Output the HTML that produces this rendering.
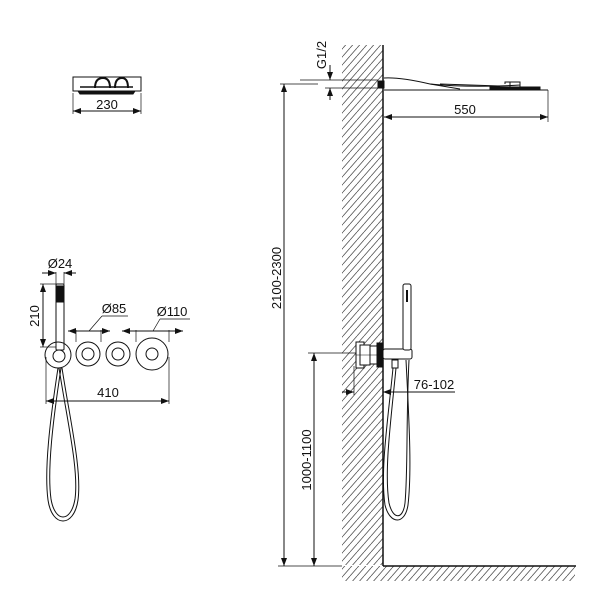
<!DOCTYPE html>
<html><head><meta charset="utf-8"><style>
html,body{margin:0;padding:0;background:#fff;width:600px;height:600px;overflow:hidden}
svg{display:block}
text{font-family:"Liberation Sans",sans-serif;font-size:13px;fill:#111}
</style></head><body>
<svg width="600" height="600" viewBox="0 0 600 600" xmlns="http://www.w3.org/2000/svg">
<defs>
<pattern id="h" width="7" height="8" patternUnits="userSpaceOnUse">
<path d="M0,8 L7,0 M-1,1 L0,0 M7,8 L8,7" stroke="#555" stroke-width="0.8"/>
</pattern>
<marker id="a" markerWidth="8" markerHeight="6" refX="8" refY="3" orient="auto-start-reverse" markerUnits="userSpaceOnUse">
<path d="M0,0 L8,3 L0,6 Z" fill="#111"/>
</marker>
</defs>
<g stroke="#111" fill="none" stroke-width="1">
<rect x="342" y="45" width="41" height="520" fill="url(#h)" stroke="none"/>
<rect x="342" y="566" width="233" height="15" fill="url(#h)" stroke="none"/>
<line x1="383" y1="45" x2="383" y2="566" stroke-width="1.5"/>
<line x1="383" y1="566" x2="576" y2="566" stroke-width="1.5"/>

<rect x="378" y="81" width="6" height="7" fill="#111"/>
<path d="M384,78 Q400,77 430,84 Q470,88 520,85 L520,82 L505,82 L505,84"/>
<path d="M384,90 L548,90"/>
<path d="M430,84 L460,89 M440,84 L500,86"/>
<rect x="490" y="87" width="50" height="3" fill="#111"/>
<rect x="510" y="82" width="10" height="5"/>
<line x1="300" y1="80" x2="378" y2="80" stroke-width="0.7"/>
<line x1="325" y1="88" x2="378" y2="88" stroke-width="0.7"/>
<line x1="330" y1="65" x2="330" y2="80" marker-end="url(#a)"/>
<line x1="330" y1="100" x2="330" y2="88" marker-end="url(#a)"/>
<line x1="548" y1="90" x2="548" y2="122" stroke-width="0.7"/>
<line x1="384" y1="117" x2="548" y2="117" marker-start="url(#a)" marker-end="url(#a)"/>

<line x1="280" y1="84" x2="318" y2="84" stroke-width="0.7"/>
<line x1="284" y1="84" x2="284" y2="566" marker-start="url(#a)" marker-end="url(#a)"/>
<line x1="278" y1="566" x2="342" y2="566" stroke-width="0.7"/>
<line x1="308" y1="353" x2="360" y2="353" stroke-width="0.7"/>
<line x1="314" y1="353" x2="314" y2="566" marker-start="url(#a)" marker-end="url(#a)"/>

<rect x="356" y="342" width="8" height="26" fill="#fff"/>
<rect x="360" y="345" width="10" height="20" fill="#fff"/>
<rect x="370" y="346" width="7" height="18" fill="#fff"/>
<rect x="377" y="343" width="6" height="24" fill="#111"/>
<line x1="356" y1="355" x2="384" y2="355" stroke-width="0.5"/>
<rect x="383" y="349" width="29" height="10" rx="2" fill="#fff"/>
<rect x="403" y="284" width="8" height="66" rx="2" fill="#fff"/>
<line x1="407" y1="290" x2="407" y2="302" stroke-width="2"/>
<rect x="392" y="360" width="6" height="8" fill="#fff"/>
<line x1="354" y1="366" x2="354" y2="395" stroke-width="0.7"/>
<line x1="342" y1="392" x2="354" y2="392" marker-end="url(#a)"/>
<line x1="383" y1="392" x2="455" y2="392" marker-start="url(#a)"/>
<path d="M393,368 C388,420 380,470 385,505 C390,525 405,525 408,505 C412,470 409,420 406,360"/>
<path d="M396,368 C391,420 384,470 389,503 C393,520 403,520 405,503 C408,470 406,420 409,360"/>

<rect x="73" y="77" width="68" height="14"/>
<path d="M78,91 L135,91 L133,94 L80,94 Z" fill="#111"/>
<path d="M95,88 Q95,78 103,78 Q110,78 110,88 M115,88 Q115,78 122,78 Q128,78 128,88" stroke-width="2"/>
<line x1="80" y1="87" x2="133" y2="87" stroke-width="1.5"/>
<line x1="73" y1="93" x2="73" y2="114" stroke-width="0.7"/>
<line x1="141" y1="93" x2="141" y2="114" stroke-width="0.7"/>
<line x1="73" y1="111" x2="141" y2="111" marker-start="url(#a)" marker-end="url(#a)"/>

<rect x="56" y="284" width="8" height="66" rx="1" fill="#fff"/>
<rect x="57" y="286" width="6" height="16" fill="#111"/>
<circle cx="58" cy="355" r="13"/>
<circle cx="59" cy="356" r="6"/>
<circle cx="88" cy="354" r="12"/><circle cx="88" cy="354" r="6"/>
<circle cx="118" cy="354" r="12"/><circle cx="118" cy="354" r="6"/>
<circle cx="152" cy="354" r="16"/><circle cx="152" cy="354" r="6"/>
<line x1="56" y1="272" x2="56" y2="284" stroke-width="0.7"/>
<line x1="64" y1="272" x2="64" y2="284" stroke-width="0.7"/>
<line x1="42" y1="273" x2="56" y2="273" marker-end="url(#a)"/>
<line x1="76" y1="273" x2="64" y2="273" marker-end="url(#a)"/>
<line x1="40" y1="284" x2="56" y2="284" stroke-width="0.7"/>
<line x1="40" y1="347" x2="56" y2="347" stroke-width="0.7"/>
<line x1="43" y1="284" x2="43" y2="347" marker-start="url(#a)" marker-end="url(#a)"/>
<line x1="76" y1="330" x2="76" y2="342" stroke-width="0.7"/>
<line x1="101" y1="330" x2="101" y2="342" stroke-width="0.7"/>
<line x1="68" y1="331" x2="110" y2="331" marker-start="url(#a)" marker-end="url(#a)"/>
<line x1="89" y1="331" x2="102" y2="316" stroke-width="0.7"/>
<line x1="102" y1="316" x2="128" y2="316" stroke-width="0.7"/>
<line x1="136" y1="330" x2="136" y2="342" stroke-width="0.7"/>
<line x1="169" y1="330" x2="169" y2="342" stroke-width="0.7"/>
<line x1="122" y1="331" x2="183" y2="331" marker-start="url(#a)" marker-end="url(#a)"/>
<line x1="153" y1="331" x2="160" y2="319" stroke-width="0.7"/>
<line x1="160" y1="319" x2="190" y2="319" stroke-width="0.7"/>
<line x1="46" y1="357" x2="46" y2="404" stroke-width="0.7"/>
<line x1="169" y1="357" x2="169" y2="404" stroke-width="0.7"/>
<line x1="46" y1="401" x2="169" y2="401" marker-start="url(#a)" marker-end="url(#a)"/>
<path d="M58,368 C50,420 44,470 48,500 C52,528 74,528 78,500 C82,470 70,420 62,368"/>
<path d="M61,368 C53,420 47,470 51,499 C55,523 71,523 75,499 C79,470 67,420 59,368"/>
</g>
<text x="107" y="109" text-anchor="middle">230</text>
<text x="60" y="268" text-anchor="middle">Ø24</text>
<text x="114" y="313" text-anchor="middle">Ø85</text>
<text x="172" y="316" text-anchor="middle">Ø110</text>
<text x="108" y="397" text-anchor="middle">410</text>
<text transform="translate(39,316) rotate(-90)" text-anchor="middle">210</text>
<text x="465" y="114" text-anchor="middle">550</text>
<text transform="translate(326,55) rotate(-90)" text-anchor="middle">G1/2</text>
<text transform="translate(281,278) rotate(-90)" text-anchor="middle">2100-2300</text>
<text transform="translate(311,460) rotate(-90)" text-anchor="middle">1000-1100</text>
<text x="434" y="389" text-anchor="middle">76-102</text>
</svg>
</body></html>
